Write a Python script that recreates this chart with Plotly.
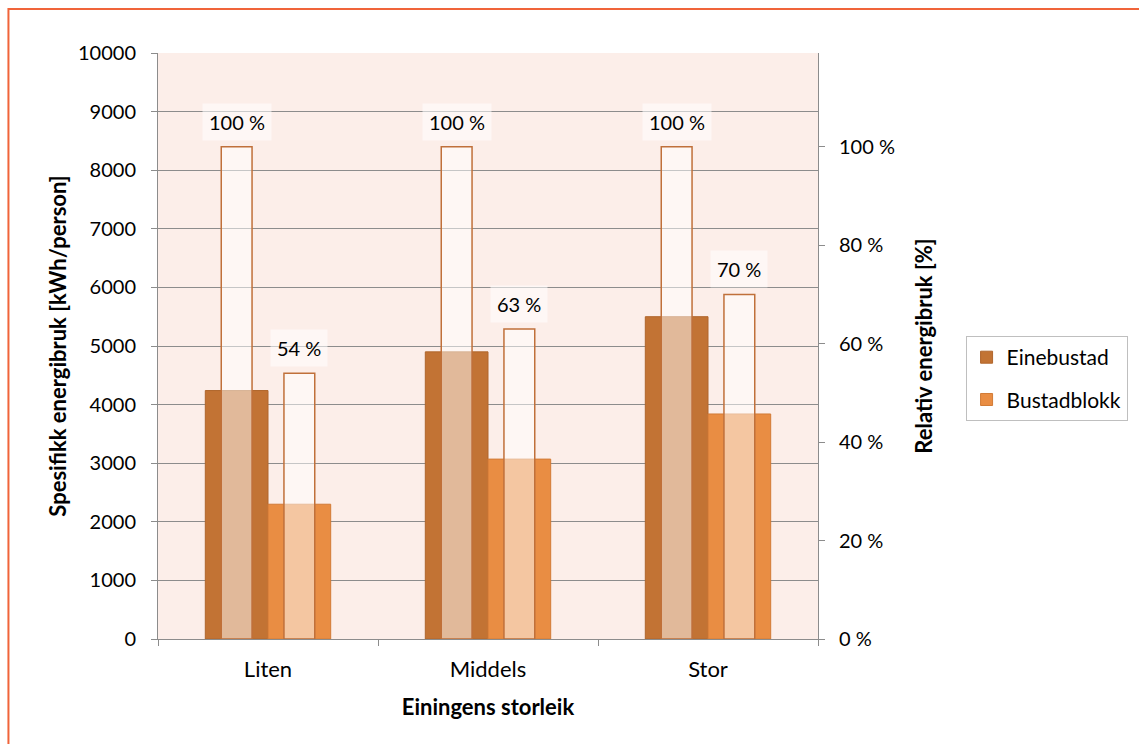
import plotly.graph_objects as go

# Data
categories = ["Liten", "Middels", "Stor"]
einebustad = [4240, 4900, 5500]          # kWh/person
bustadblokk = [2300, 3070, 3840]         # kWh/person
rel_einebustad = [100, 100, 100]         # %
rel_bustadblokk = [54, 63, 70]           # %
left_ticks = [0, 1000, 2000, 3000, 4000, 5000, 6000, 7000, 8000, 9000, 10000]
right_ticks = [0, 20, 40, 60, 80, 100]

FONT = "Lato"
C_ENE = "#C27334"
C_BLK = "#E98D43"
C_OUT = "#C0703A"
GRID = "#8C8C8C"
FS = 20
FT = 22

idx = list(range(len(categories)))
bw = 0.285      # width of the main bars (category units)
ow = 0.14       # width of the relative overlay bars

fig = go.Figure()

fig.add_trace(go.Bar(
    x=categories, y=einebustad, name="Einebustad", legendgroup="a",
    width=bw, offset=-bw, marker=dict(color=C_ENE, line=dict(color="#B0662C", width=1)),
    yaxis="y", hoverinfo="y"))
fig.add_trace(go.Bar(
    x=categories, y=bustadblokk, name="Bustadblokk", legendgroup="b",
    width=bw, offset=0.0, marker=dict(color=C_BLK, line=dict(color="#D27B36", width=1)),
    yaxis="y", hoverinfo="y"))

# Relative bars on the secondary axis, semi-transparent with outline
for vals, centre in [(rel_einebustad, -bw / 2), (rel_bustadblokk, bw / 2)]:
    fig.add_trace(go.Bar(
        x=categories, y=vals, width=ow, offset=centre - ow / 2,
        marker=dict(color="rgba(255,255,255,0.5)", line=dict(color=C_OUT, width=1.5)),
        yaxis="y2", showlegend=False, hoverinfo="y"))
    for i, v in zip(idx, vals):
        fig.add_annotation(
            x=i + centre, y=v, xref="x", yref="y2", text=f"{v} %",
            showarrow=False, yanchor="bottom", yshift=6,
            font=dict(family=FONT, size=FS, color="#000"),
            bgcolor="rgba(255,255,255,0.55)", borderpad=6)

fig.update_layout(
    width=1139, height=744,
    margin=dict(l=158, r=319, t=53, b=105),
    paper_bgcolor="white",
    plot_bgcolor="#FCEEE9",
    barmode="overlay",
    font=dict(family=FONT, size=FS, color="#000"),
    showlegend=True,
    legend=dict(x=1.2236, y=0.517, xanchor="left", yanchor="top",
                bordercolor="#BFBFBF", borderwidth=1, bgcolor="white",
                font=dict(family=FONT, size=21), tracegroupgap=12,
                itemwidth=30),
    xaxis=dict(
        type="category", range=[-0.5, 2.5], tickson="boundaries",
        ticks="outside", ticklen=6, tickcolor=GRID, showgrid=False,
        showline=True, linecolor=GRID, linewidth=1, ticklabelstandoff=11,
        title=dict(text="<b>Einingens storleik</b>", font=dict(size=FT), standoff=18),
        tickfont=dict(size=22)),
    yaxis=dict(
        range=[0, 10000], tickvals=left_ticks, ticktext=[str(t) for t in left_ticks],
        showgrid=True, gridcolor=GRID,
        gridwidth=1, ticks="outside", ticklen=6, tickcolor=GRID,
        showline=True, linecolor=GRID, linewidth=1, zeroline=False,
        ticklabelstandoff=11,
        title=dict(text="<b>Spesifikk energibruk [kWh/person]</b>", font=dict(size=FT), standoff=5),
        tickfont=dict(size=FS)),
    yaxis2=dict(
        overlaying="y", side="right", range=[0, 119.05], tickvals=right_ticks,
        ticktext=[f"{t} %" for t in right_ticks],
        showgrid=False, ticks="outside", ticklen=6, tickcolor=GRID,
        showline=True, linecolor=GRID, linewidth=1, zeroline=False,
        ticklabelstandoff=10,
        title=dict(text="<b>Relativ energibruk [%]</b>", font=dict(size=FT), standoff=22),
        tickfont=dict(size=FS)),
)

# Outer frame around the chart
fig.add_shape(type="rect", xref="paper", yref="paper",
              x0=-0.2266, x1=1.6, y0=-0.4, y1=1.0751,
              line=dict(color="#F0643A", width=2), fillcolor="rgba(0,0,0,0)",
              layer="above")

fig.write_html("out.html")
